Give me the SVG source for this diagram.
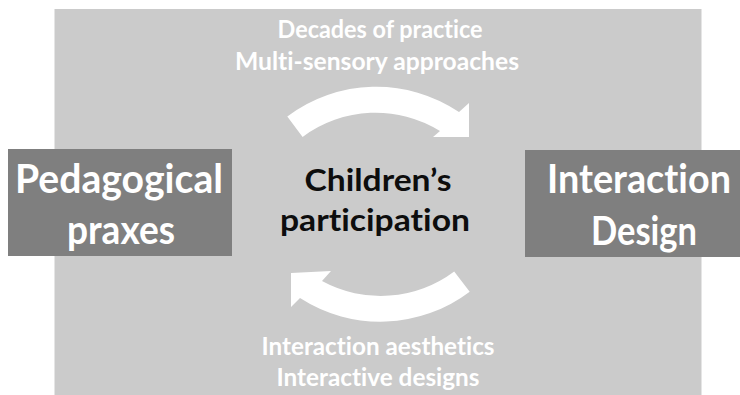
<svg xmlns="http://www.w3.org/2000/svg" width="740" height="395" viewBox="0 0 740 395">
<style>
.t{font-family:Lato,"Open Sans","Liberation Sans",sans-serif;font-weight:bold;text-anchor:middle;font-variant-ligatures:none;font-feature-settings:"liga" 0,"dlig" 0,"clig" 0}
.w{fill:#ffffff}
.k{fill:#0d0d0d}
.box{fill:#7f7f7f}
.arrow{fill:#ffffff}
</style>
<rect id="background" x="54.5" y="9" width="647" height="386" fill="#cbcbcb"/>
<g id="connectors">
<path class="arrow" d="M 287.3,116.5 A 148 148 0 0 1 459,112 L 469,103 L 469,137 L 433,137 L 440,131 A 122.5 122.5 0 0 0 302.6,136.9 Z"/>
<path class="arrow" d="M 469.7,291.7 A 148 148 0 0 1 300,298 L 291,307 L 291,273 L 331,271 L 322,281 A 122.5 122.5 0 0 0 454.2,271.4 Z"/>
</g>
<g id="top-labels">
<text class="t w" x="380" y="38" font-size="24" textLength="205" lengthAdjust="spacingAndGlyphs">Decades of practice</text>
<text class="t w" x="377" y="70" font-size="24" textLength="284" lengthAdjust="spacingAndGlyphs">Multi-sensory approaches</text>
</g>
<g id="bottom-labels">
<text class="t w" x="378" y="355" font-size="24" textLength="233" lengthAdjust="spacingAndGlyphs">Interaction aesthetics</text>
<text class="t w" x="378" y="386" font-size="24" textLength="203" lengthAdjust="spacingAndGlyphs">Interactive designs</text>
</g>
<g id="pedagogical-praxes">
<rect class="box" x="8" y="149" width="224" height="107"/>
<text class="t w" x="119" y="193" font-size="40" textLength="208" lengthAdjust="spacingAndGlyphs">Pedagogical</text>
<text class="t w" x="121" y="244" font-size="40" textLength="108" lengthAdjust="spacingAndGlyphs">praxes</text>
</g>
<g id="childrens-participation">
<text class="t k" x="378" y="191" font-size="30" textLength="147" lengthAdjust="spacingAndGlyphs">Children’s</text>
<text class="t k" x="375" y="231" font-size="30" textLength="190" lengthAdjust="spacingAndGlyphs">participation</text>
</g>
<g id="interaction-design">
<rect class="box" x="525" y="150" width="215" height="107"/>
<text class="t w" x="639" y="193" font-size="40" textLength="184" lengthAdjust="spacingAndGlyphs">Interaction</text>
<text class="t w" x="644" y="245" font-size="40" textLength="106" lengthAdjust="spacingAndGlyphs">Design</text>
</g>
</svg>
